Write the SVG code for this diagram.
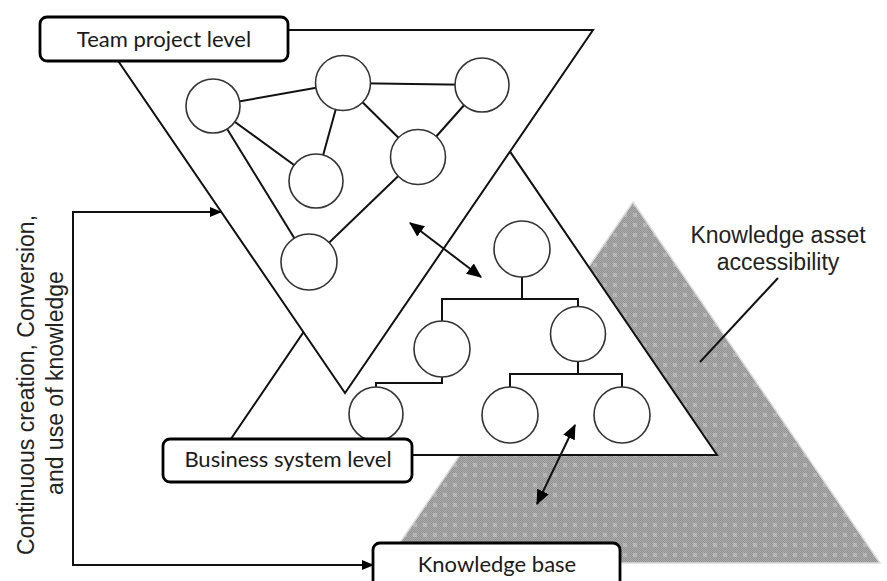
<svg xmlns="http://www.w3.org/2000/svg" width="887" height="581" viewBox="0 0 887 581">
  <defs>
    <!-- fine checker with lighter squares for the knowledge-asset triangle -->
    <pattern id="checker" width="2" height="2" patternUnits="userSpaceOnUse">
      <rect width="2" height="2" fill="#ababab"/>
      <rect width="1" height="1" fill="#929292"/>
      <rect x="1" y="1" width="1" height="1" fill="#929292"/>
    </pattern>
    <pattern id="grid" width="10" height="10" patternUnits="userSpaceOnUse">
      <rect width="10" height="10" fill="url(#checker)"/>
      <rect x="3" y="3" width="4" height="4" fill="#c6c6c6" opacity="0.6"/>
    </pattern>
    <marker id="head" viewBox="0 0 12 10" refX="11" refY="5" markerWidth="12" markerHeight="10" markerUnits="userSpaceOnUse" orient="auto-start-reverse">
      <path d="M0,0 L12,5 L0,10 Z" fill="#000"/>
    </marker>
    <marker id="headL" viewBox="0 0 14 12" refX="13" refY="6" markerWidth="15" markerHeight="13" markerUnits="userSpaceOnUse" orient="auto-start-reverse">
      <path d="M0,0 L14,6 L0,12 Z" fill="#000"/>
    </marker>
    <style>
      .tri { fill: #fff; stroke: #111; stroke-width: 2; stroke-linejoin: miter; }
      .node { fill: #fff; stroke: #333; stroke-width: 1.6; }
      .link { fill: none; stroke: #111; stroke-width: 2; }
      .box { fill: #fff; stroke: #000; stroke-width: 2.8; }
      .boxlabel { font-family: Lato, "Noto Sans", sans-serif; font-size: 22px; fill: #1a1a1a; text-anchor: middle; }
      .label { font-family: "Liberation Sans", Arial, sans-serif; font-size: 23px; fill: #222; text-anchor: middle; }
    </style>
  </defs>

  <rect width="887" height="581" fill="#fff"/>

  <!-- knowledge asset accessibility (textured pyramid) -->
  <g id="asset-pyramid">
    <polygon points="633,202 880,563 386,563" fill="url(#grid)" stroke="#dcdcdc" stroke-width="1.5"/>
  </g>

  <!-- business system level triangle -->
  <g id="business-triangle">
    <polygon class="tri" points="468,90 717,455 220,455"/>
  </g>

  <!-- team project level triangle (inverted, drawn on top) -->
  <g id="team-triangle">
    <polygon class="tri" points="97,30 593,30 345,393"/>
  </g>

  <!-- team network links and hierarchy connectors -->
  <g id="connectors">
    <line class="link" x1="213" y1="106" x2="343" y2="83"/>
    <line class="link" x1="343" y1="83" x2="482" y2="85"/>
    <line class="link" x1="343" y1="83" x2="316" y2="181"/>
    <line class="link" x1="343" y1="83" x2="418" y2="157"/>
    <line class="link" x1="482" y1="85" x2="418" y2="157"/>
    <line class="link" x1="418" y1="157" x2="309" y2="262"/>
    <line class="link" x1="213" y1="106" x2="316" y2="181"/>
    <line class="link" x1="213" y1="106" x2="309" y2="262"/>

    <polyline class="link" points="522,277 522,299"/>
    <polyline class="link" points="442,322 442,299 578,299 578,307"/>
    <polyline class="link" points="442,377 442,383 376,383 376,387"/>
    <polyline class="link" points="578,361 578,374"/>
    <polyline class="link" points="510,388 510,374 622,374 622,388"/>

    <!-- interaction between levels -->
    <line class="link" x1="410" y1="223" x2="481" y2="277" marker-start="url(#headL)" marker-end="url(#headL)"/>
    <line class="link" x1="575" y1="425" x2="537" y2="504" marker-start="url(#headL)" marker-end="url(#headL)"/>

    <!-- continuous creation loop -->
    <polyline class="link" points="221,212 73,212 73,565 373,565" stroke-width="1.8" marker-start="url(#head)" marker-end="url(#head)"/>

    <!-- accessibility leader -->
    <line class="link" x1="778" y1="278" x2="700" y2="362" stroke-width="1.8"/>
  </g>

  <!-- team project network nodes -->
  <g id="team-n1"><circle class="node" cx="213" cy="106" r="27"/></g>
  <g id="team-n2"><circle class="node" cx="343" cy="83" r="27.5"/></g>
  <g id="team-n3"><circle class="node" cx="482" cy="85" r="27"/></g>
  <g id="team-n4"><circle class="node" cx="418" cy="157" r="27.5"/></g>
  <g id="team-n5"><circle class="node" cx="316" cy="181" r="27"/></g>
  <g id="team-n6"><circle class="node" cx="309" cy="262" r="28"/></g>

  <!-- business system hierarchy nodes -->
  <g id="biz-root"><circle class="node" cx="522" cy="249" r="28"/></g>
  <g id="biz-left"><circle class="node" cx="442" cy="349" r="28"/></g>
  <g id="biz-right"><circle class="node" cx="578" cy="334" r="27.5"/></g>
  <g id="biz-left-leaf"><circle class="node" cx="376" cy="414" r="27"/></g>
  <g id="biz-right-leaf1"><circle class="node" cx="510" cy="415" r="28"/></g>
  <g id="biz-right-leaf2"><circle class="node" cx="622" cy="415" r="28"/></g>

  <!-- level labels -->
  <g id="team-project-level">
    <rect class="box" x="40" y="17" width="248" height="44" rx="7"/>
    <text class="boxlabel" x="164" y="47">Team project level</text>
  </g>
  <g id="business-system-level">
    <rect class="box" x="163" y="439" width="249" height="43" rx="7"/>
    <text class="boxlabel" x="288" y="467">Business system level</text>
  </g>
  <g id="knowledge-base">
    <rect class="box" x="373" y="543" width="247" height="60" rx="7"/>
    <text class="boxlabel" x="497" y="572">Knowledge base</text>
  </g>

  <g id="asset-label">
    <text class="label" x="778" y="243">Knowledge asset</text>
    <text class="label" x="778" y="270">accessibility</text>
  </g>

  <g id="loop-label">
    <text class="label" transform="translate(34,385) rotate(-90)">Continuous creation, Conversion,</text>
    <text class="label" transform="translate(63,383) rotate(-90)">and use of knowledge</text>
  </g>
</svg>
